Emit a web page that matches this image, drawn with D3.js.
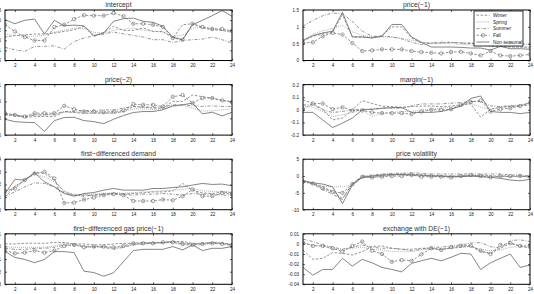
<!DOCTYPE html>
<html>
<head>
<meta charset="utf-8">
<script src="https://cdn.jsdelivr.net/npm/d3@7"></script>
<style>
  body { margin: 0; background: #fff; }
  svg { display: block; font-family: "Liberation Sans", Arial, sans-serif; }
</style>
</head>
<body>
<div id="chart"></div>
<script>
const hours = d3.range(1, 25);
const xTicks = d3.range(2, 25, 2);
const seriesNames = ["Winter", "Spring", "Summer", "Fall", "Non seasonal"];

// intercept
const interceptWinter = [1.66,1.73,1.77,1.81,1.81,1.86,1.94,2.02,2.19,1.69,1.89,2.19,1.99,1.99,2.11,1.94,1.94,1.61,2.27,2.32,2.11,2.02,1.99,1.89];
const interceptSpring = [1.8,1.75,1.7,1.7,1.75,1.9,2.0,2.1,2.1,1.9,1.85,2.0,2.05,2.1,2.0,1.95,1.9,1.7,1.75,2.1,2.15,2.1,2.0,1.95];
const interceptSummer = [1.15,1.03,0.95,1.20,1.20,1.23,1.06,1.44,1.61,1.73,1.81,1.91,1.82,1.74,1.66,1.53,1.53,1.39,1.49,1.53,1.56,1.66,1.53,1.36];
const interceptFall = [2.27,1.94,1.66,1.49,1.49,2.16,2.27,2.55,2.74,2.72,2.72,2.85,2.69,2.32,2.32,2.27,2.16,1.61,1.53,2.32,2.16,2.06,2.06,1.97];
const interceptNon = [2.52,2.32,2.49,2.55,1.81,2.49,2.22,2.25,2.22,1.73,1.86,2.44,2.57,2.60,2.44,2.39,2.19,1.66,1.53,2.27,2.49,2.72,2.97,2.69];

// price(-1)
const price1Winter = [0.57,0.72,0.79,0.84,1.36,0.70,0.70,0.67,0.74,1.00,1.00,0.67,0.52,0.52,0.52,0.54,0.52,0.50,0.52,0.42,0.42,0.40,0.40,0.40];
const price1Spring = [0.6,0.78,0.88,0.95,1.05,0.85,0.75,0.7,0.7,0.7,0.66,0.6,0.55,0.5,0.5,0.5,0.48,0.46,0.45,0.43,0.44,0.41,0.39,0.37];
const price1Summer = [1.02,1.19,1.33,1.41,1.39,1.16,0.87,0.72,0.72,0.70,0.64,0.54,0.47,0.52,0.54,0.54,0.52,0.52,0.50,0.54,0.52,0.49,0.50,0.47];
const price1Fall = [0.52,0.54,0.72,0.82,0.77,0.52,0.28,0.30,0.33,0.33,0.33,0.28,0.25,0.23,0.21,0.25,0.26,0.21,0.15,0.28,0.15,0.13,0.15,0.18];
const price1Non = [0.60,0.74,0.82,0.87,1.43,0.70,0.70,0.67,0.72,1.07,1.07,0.70,0.54,0.40,0.40,0.40,0.39,0.37,0.37,0.31,0.42,0.35,0.35,0.33];

// price(-2)
const price2Winter = [0.10,0.07,0.03,0.05,0.05,0.05,0.20,0.17,0.15,0.15,0.15,0.15,0.20,0.35,0.33,0.30,0.30,0.50,0.50,0.69,0.64,0.60,0.53,0.50];
const price2Spring = [0.12,0.10,0.06,0.10,0.10,0.10,0.18,0.18,0.16,0.16,0.16,0.16,0.20,0.28,0.28,0.26,0.28,0.35,0.38,0.30,0.22,0.22,0.25,0.28];
const price2Summer = [0.12,0.10,0.03,0.10,0.10,0.13,0.20,0.20,0.23,0.23,0.25,0.25,0.30,0.35,0.33,0.33,0.33,0.40,0.40,0.37,0.35,0.37,0.35,0.35];
const price2Fall = [0.15,0.10,0.05,0.15,0.15,0.15,0.37,0.27,0.20,0.20,0.18,0.20,0.23,0.42,0.40,0.40,0.35,0.64,0.69,0.45,0.60,0.60,0.53,0.48];
const price2Non = [-0.03,-0.10,-0.12,-0.13,-0.39,-0.07,0.02,0.03,-0.07,-0.10,-0.16,-0.03,0.08,0.17,0.20,0.20,0.25,0.37,0.40,0.45,0.13,0.18,0.07,0.18];

// margin(-1)
const marginWinter = [0.08,0.05,0.005,-0.08,-0.065,0,0.074,0.05,0.03,0.026,0.02,0.026,0.03,0.03,0.026,0.03,0.04,0.047,-0.058,0.005,0.02,0.026,0.03,0.058];
const marginSpring = [0.032,0.021,-0.013,-0.053,-0.039,-0.021,0,-0.053,-0.026,-0.021,-0.013,-0.013,0,0.005,0.013,0.021,0.032,0.053,0.021,0.005,0.021,0.032,0.039,0.053];
const marginSummer = [0.039,0.039,0,-0.021,-0.013,0,0.005,0.005,0.013,0.013,0.013,0.032,0.047,0.047,0.047,0.053,0.058,0.066,0.066,0.032,0.026,0.032,0.032,0.039];
const marginFall = [0.005,0.05,0.05,0.005,0.02,-0.005,-0.005,-0.02,-0.026,-0.026,-0.026,-0.034,-0.013,0,0,0.005,0.04,0.063,0.074,-0.013,0.005,0.013,0.03,0.058];
const marginNon = [-0.02,-0.02,-0.08,-0.14,-0.105,-0.065,0,0.005,0.013,0.018,0.018,-0.02,-0.02,-0.02,-0.013,0.005,0.03,0.09,0.11,-0.013,-0.02,-0.02,-0.03,-0.02];

// first-differenced demand
const demandWinter = [1.01,1.81,2.35,2.93,2.88,2.35,1.41,1.15,1.15,1.15,1.23,1.28,1.23,1.28,1.33,1.41,1.41,1.49,2.08,1.55,1.33,1.28,1.41,1.33];
const demandSpring = [1.2,1.9,2.3,2.8,2.6,2.2,1.5,1.2,1.2,1.25,1.3,1.35,1.3,1.35,1.4,1.45,1.5,1.55,1.6,1.7,1.5,1.45,1.45,1.4];
const demandSummer = [1.07,1.41,1.81,2.13,2.08,1.81,1.33,1.15,1.07,1.15,1.23,1.28,1.23,1.15,1.23,1.23,1.28,1.23,1.15,1.28,1.23,1.23,1.15,1.15];
const demandFall = [1.49,1.68,2.35,2.88,3.01,2.48,0.53,0.56,0.80,0.96,1.15,1.23,1.15,0.69,0.69,0.69,0.80,0.75,1.07,1.60,1.07,1.07,1.33,1.23];
const demandNon = [1.28,2.40,2.35,2.93,2.21,1.81,1.28,1.07,1.28,1.36,1.55,1.68,1.55,1.55,1.55,1.68,1.68,1.76,1.81,1.95,2.08,2.00,2.03,1.89];

// price volatility
const volWinter = [-1.4,-2.2,-3.2,-4.7,-6.7,-2.4,-0.4,-0.4,0,0.3,0.6,0.6,0.3,0.3,0,0,0,0,0.3,0,0,-0.2,0,-0.4];
const volSpring = [-1.2,-2.4,-3.0,-3.2,-3.2,-2.7,-0.2,0,0.3,0.3,0.3,0.3,0,0,0,0,0,0,0,0,-0.2,-0.2,-0.2,0];
const volSummer = [-1.7,-2.4,-4.0,-5.4,-7.0,-2.2,0,0.3,0.6,0.8,0.8,1.0,0.8,0.6,0.6,0.6,0.6,0.6,0.6,0.6,0.6,0.3,0.3,0];
const volFall = [-1.7,-2.2,-3.7,-4.7,-5.0,-2.4,-0.2,-0.4,-0.2,0,0,0.3,-0.2,-0.2,-0.2,-0.4,0,0.3,0,-0.4,0,0,0,-0.2];
const volNon = [-1.4,-2.0,-2.4,-3.2,-8.2,-2.7,-0.4,0,0.3,0.5,0.5,0.3,0.3,0,0,-0.2,-0.2,0,-0.2,-0.4,-0.7,-1.2,-1.4,-1.0];

// first-differenced gas price(-1)
const gasWinter = [0.2,0.2,0.25,0.25,0.25,0.31,0.31,0.2,0.2,0.12,0.12,0.2,0.25,0.25,0.31,0.31,0.31,0.39,0.39,0.25,0.25,0.31,0.25,0.2];
const gasSpring = [-0.01,-0.07,-0.07,-0.07,-0.07,0.04,0.25,0.2,0.04,-0.01,-0.01,-0.15,-0.01,0.12,0.2,0.25,0.25,0.31,0.12,0.12,0.12,0.25,0.25,0.12];
const gasSummer = [-0.15,-0.23,-0.23,-0.15,-0.15,-0.07,0.12,0.12,-0.01,-0.07,-0.07,-0.23,-0.07,0.12,0.2,0.25,0.31,0.39,0.25,0.2,0.25,0.31,0.25,0.12];
const gasFall = [-0.33,-0.55,-0.49,-0.33,-0.49,-0.33,0.04,0.12,-0.07,-0.01,-0.01,-0.07,0.04,0.25,0.25,0.25,0.33,0.33,0.2,0.12,0.2,0.25,0.2,0.07];
const gasNon = [-0.41,-0.87,-1.03,-1.29,-1.03,-0.41,-0.41,-0.49,-1.96,-2.07,-2.36,-2.09,-1.21,-0.33,-0.23,-0.23,-0.23,-0.01,-0.28,0.12,-0.33,-0.15,-0.15,-0.01];

// exchange with DE(-1)
const exWinter = [-0.006,-0.0153,-0.0143,-0.0087,-0.0093,-0.011,-0.0077,-0.0027,-0.002,-0.0043,-0.0053,-0.0053,-0.0043,-0.0043,-0.0053,-0.0043,-0.0033,-0.002,-0.0077,-0.0093,-0.0043,0.0007,-0.002,-0.0043];
const exSpring = [0.0007,-0.001,-0.002,-0.0053,-0.0053,-0.0043,-0.0033,-0.0053,-0.006,-0.0077,-0.0077,-0.0077,-0.006,-0.0053,-0.0053,-0.0043,-0.0033,-0.0027,-0.0053,-0.0067,-0.006,-0.0033,-0.0027,-0.0033];
const exSummer = [0.0047,0.0023,-0.001,-0.0033,-0.0053,-0.0033,-0.001,-0.0033,-0.0043,-0.0043,-0.0053,-0.0067,-0.0053,-0.0033,-0.0033,-0.002,-0.001,0.0007,0.0013,-0.0027,-0.0043,0.0033,0.004,0.0023];
const exFall = [0.0013,-0.002,-0.002,-0.0043,-0.0077,-0.002,0.0023,-0.0067,-0.01,-0.0177,-0.016,-0.0167,-0.0103,-0.0043,-0.006,-0.0033,-0.0017,-0.0017,-0.0067,-0.01,-0.001,0.0007,-0.002,-0.002];
const exNon = [-0.0233,-0.031,-0.0253,-0.0253,-0.0143,-0.022,-0.0153,-0.0187,-0.0233,-0.0253,-0.0277,-0.0193,-0.0167,-0.0143,-0.0167,-0.0133,-0.0093,-0.01,-0.0253,-0.0187,-0.0143,-0.01,-0.0233,-0.021];

const panels = [
  {title: "intercept", yTicks: [0.5,1,1.5,2,2.5,3], series: [interceptWinter, interceptSpring, interceptSummer, interceptFall, interceptNon]},
  {title: "price(\u22121)", yTicks: [0,0.5,1,1.5], series: [price1Winter, price1Spring, price1Summer, price1Fall, price1Non], legend: true},
  {title: "price(\u22122)", yTicks: [-0.5,0,0.5,1], series: [price2Winter, price2Spring, price2Summer, price2Fall, price2Non]},
  {title: "margin(\u22121)", yTicks: [-0.2,-0.1,0,0.1,0.2], series: [marginWinter, marginSpring, marginSummer, marginFall, marginNon]},
  {title: "first\u2212differenced demand", yTicks: [0,1,2,3,4], series: [demandWinter, demandSpring, demandSummer, demandFall, demandNon]},
  {title: "price volatility", yTicks: [-10,-5,0,5], series: [volWinter, volSpring, volSummer, volFall, volNon]},
  {title: "first\u2212differenced gas price(\u22121)", yTicks: [-3,-2,-1,0,1], series: [gasWinter, gasSpring, gasSummer, gasFall, gasNon]},
  {title: "exchange with DE(\u22121)", yTicks: [-0.04,-0.03,-0.02,-0.01,0,0.01], series: [exWinter, exSpring, exSummer, exFall, exNon]}
];

const W = 534, H = 294;
const colX = [[5, 232], [303, 530]];
const rowTop = [10, 84.6, 159.2, 233.8];
const plotH = 50.5;

const styles = [
  {dash: "2.5,1.6", color: "#777", marker: false},
  {dash: "0.8,1.2", color: "#888", marker: false},
  {dash: "3,1.5,0.8,1.5", color: "#777", marker: false},
  {dash: "2.5,1.6", color: "#777", marker: true},
  {dash: null, color: "#666", marker: false}
];

const svg = d3.select("#chart").append("svg")
  .attr("width", W).attr("height", H);

const fmt = v => String(+v.toFixed(3));

panels.forEach(function (p, i) {
  const col = i % 2, row = Math.floor(i / 2);
  const x0 = colX[col][0], x1 = colX[col][1];
  const top = rowTop[row], bottom = top + plotH;
  const yDom = d3.extent(p.yTicks);

  const x = d3.scaleLinear().domain([1, 24]).range([x0, x1]);
  const y = d3.scaleLinear().domain(yDom).range([bottom, top]);

  const g = svg.append("g");

  g.append("rect")
    .attr("x", x0).attr("y", top)
    .attr("width", x1 - x0).attr("height", plotH)
    .attr("fill", "#fff");

  const clipId = "clip" + i;
  svg.append("clipPath").attr("id", clipId)
    .append("rect").attr("x", x0).attr("y", top).attr("width", x1 - x0).attr("height", plotH);

  const line = d3.line().x((d, j) => x(hours[j])).y(d => y(d));
  const lines = g.append("g").attr("clip-path", `url(#${clipId})`);

  p.series.forEach(function (vals, k) {
    const st = styles[k];
    lines.append("path")
      .datum(vals)
      .attr("d", line)
      .attr("fill", "none")
      .attr("stroke", st.color)
      .attr("stroke-width", 0.8)
      .attr("stroke-dasharray", st.dash);
    if (st.marker) {
      lines.selectAll(".m" + k)
        .data(vals)
        .enter()
        .append("circle")
        .attr("cx", (d, j) => x(hours[j]))
        .attr("cy", d => y(d))
        .attr("r", 1.7)
        .attr("fill", "none")
        .attr("stroke", st.color)
        .attr("stroke-width", 0.7);
    }
  });

  // axes with inward ticks, MATLAB box style
  const ax = [
    g.append("g").attr("transform", `translate(0,${bottom})`)
      .call(d3.axisBottom(x).tickValues(xTicks).tickSizeInner(-2).tickSizeOuter(0).tickPadding(3.2).tickFormat(d3.format("d"))),
    g.append("g").attr("transform", `translate(0,${top})`)
      .call(d3.axisTop(x).tickValues(xTicks).tickSizeInner(-2).tickSizeOuter(0).tickFormat("")),
    g.append("g").attr("transform", `translate(${x0},0)`)
      .call(d3.axisLeft(y).tickValues(p.yTicks).tickSizeInner(-2).tickSizeOuter(0).tickPadding(4).tickFormat(fmt)),
    g.append("g").attr("transform", `translate(${x1},0)`)
      .call(d3.axisRight(y).tickValues(p.yTicks).tickSizeInner(-2).tickSizeOuter(0).tickFormat(""))
  ];
  ax.forEach(function (a) {
    a.select(".domain").remove();
    a.selectAll(".tick line").attr("stroke", "#000").attr("stroke-width", 0.6);
    a.selectAll(".tick text")
      .attr("font-size", 4.6)
      .attr("font-family", "Liberation Sans, Arial, sans-serif")
      .attr("fill", "#222");
  });

  g.append("rect")
    .attr("x", x0).attr("y", top)
    .attr("width", x1 - x0).attr("height", plotH)
    .attr("fill", "none")
    .attr("stroke", "#000")
    .attr("stroke-width", 1);

  g.append("text")
    .attr("x", (x0 + x1) / 2)
    .attr("y", top - 3)
    .attr("text-anchor", "middle")
    .attr("font-size", 6.8)
    .attr("fill", "#333")
    .text(p.title);

  if (p.legend) {
    const lx = 474, ly = 11, lw = 49, lh = 35;
    const lg = g.append("g");
    lg.append("rect")
      .attr("x", lx).attr("y", ly).attr("width", lw).attr("height", lh)
      .attr("fill", "#fff").attr("stroke", "#000").attr("stroke-width", 0.8);
    seriesNames.forEach(function (name, k) {
      const st = styles[k];
      const yy = ly + 4.2 + k * 6.7;
      lg.append("line")
        .attr("x1", lx + 2.5).attr("x2", lx + 15.5)
        .attr("y1", yy).attr("y2", yy)
        .attr("stroke", st.color).attr("stroke-width", 0.8)
        .attr("stroke-dasharray", st.dash);
      if (st.marker) {
        lg.append("circle")
          .attr("cx", lx + 9).attr("cy", yy).attr("r", 1.7)
          .attr("fill", "none").attr("stroke", st.color).attr("stroke-width", 0.7);
      }
      lg.append("text")
        .attr("x", lx + 19).attr("y", yy)
        .attr("dy", "0.35em")
        .attr("font-size", 4.8)
        .attr("fill", "#222")
        .text(name);
    });
  }
});
</script>
</body>
</html>
